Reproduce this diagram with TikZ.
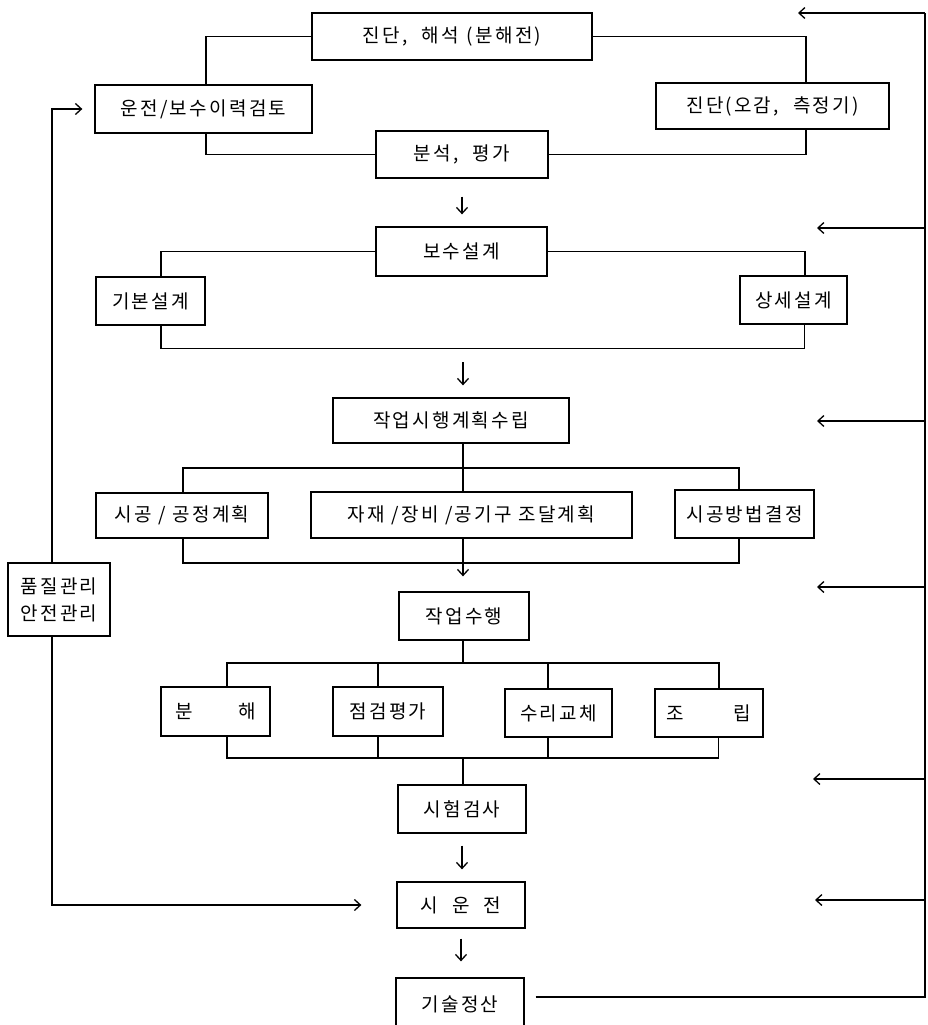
\documentclass[tikz,border=0pt]{standalone}
\usepackage{fontspec}
\newfontfamily\kr[LetterSpace=12]{Noto Sans CJK KR}
\usetikzlibrary{arrows.meta}
\begin{document}
\begin{tikzpicture}[x=1pt,y=-1pt,
  font={\kr\fontsize{19}{27}\selectfont},
  box/.style={draw,line width=1.3pt,inner sep=0pt,align=center},
  ln/.style={line width=1.3pt},
  arr/.style={ln,-{Straight Barb[length=6pt,width=11pt]}}]
\fill[white] (0,0) rectangle (927,1025);
\useasboundingbox (0,0) rectangle (927,1025);
% boxes
\node[box,minimum width=280,minimum height=47] (A) at (452,36.5) {진단,\hspace{14pt}해석\hspace{8pt}(분해전)};
\node[box,minimum width=217,minimum height=48] (B) at (203.5,109) {운전/보수이력검토};
\node[box,minimum width=233,minimum height=46] (C) at (772.5,106) {진단\hspace{2pt}(오감,\hspace{14pt}측정기)};
\node[box,minimum width=172,minimum height=47] (D) at (462,154.5) {분석,\hspace{14pt}평가};
\node[box,minimum width=171,minimum height=49] (E) at (461.5,251.5) {보수설계};
\node[box,minimum width=109,minimum height=48] (F) at (150.5,301) {기본설계};
\node[box,minimum width=107,minimum height=48] (G) at (793.5,300) {상세설계};
\node[box,minimum width=236,minimum height=45] (H) at (451,420.5) {작업시행계획수립};
\node[box,minimum width=172,minimum height=45] (I) at (182,515.5) {시공 / 공정계획};
\node[box,minimum width=321,minimum height=46] (J) at (471.5,515) {자재 /장비 /공기구 조달계획};
\node[box,minimum width=139,minimum height=48] (K) at (744.5,514) {시공방법결정};
\node[box,minimum width=130,minimum height=48] (L) at (464,616) {작업수행};
\node[box,minimum width=109,minimum height=49] (M) at (215.5,711.5) {분\hspace{46pt}해};
\node[box,minimum width=110,minimum height=49] (N) at (388,711.5) {점검평가};
\node[box,minimum width=107,minimum height=48] (O) at (558.5,713) {수리교체};
\node[box,minimum width=108,minimum height=48] (P) at (709,713) {조\hspace{50pt}립};
\node[box,minimum width=128,minimum height=48] (Q) at (462,809) {시험검사};
\node[box,minimum width=128,minimum height=46] (R) at (461,905) {시\hspace{14pt}운\hspace{14pt}전};
\node[box,minimum width=128,minimum height=52] (S) at (460,1004) {기술정산};
\node[box,minimum width=102,minimum height=73] (T) at (59,599.5) {품질관리\\안전관리};
% top group
\draw[ln] (A.west) -| ([xshift=2.5]B.north);
\draw[ln] (A.east) -| ([xshift=33.5]C.north);
\draw[ln] ([xshift=2.5]B.south) |- (D.west);
\draw[ln] ([xshift=33.5]C.south) |- (D.east);
\draw[arr,shorten <=18pt,shorten >=12pt] (D.south) -- (D.south |- E.north);
% design group
\draw[ln] (E.west) -| ([xshift=10.5]F.north);
\draw[ln] (E.east) -| ([xshift=11.5]G.north);
\draw[ln] ([xshift=10.5]F.south) -- ++(0,23) -| ([xshift=11]G.south);
\coordinate (fg) at (463,348);
\draw[arr,shorten <=14pt,shorten >=12pt] (fg) -- (fg |- H.north);
% planning group
\draw[ln] ([xshift=12]H.south) -- ([xshift=-8.5]J.north);
\coordinate (hb) at (463,468);
\draw[ln] ([xshift=1]I.north) |- (hb) -| ([xshift=-5.5]K.north);
\coordinate (ib) at (463,563);
\draw[ln] ([xshift=1]I.south) |- (ib) -| ([xshift=-5.5]K.south);
\draw[arr,shorten >=15pt] ([xshift=-8.5]J.south) -- ([xshift=-1]L.north);
% work group
\coordinate (lb) at (463,663);
\draw[ln] ([xshift=-1]L.south) -- (lb);
\draw[ln] ([xshift=11.5]M.north) |- (lb) -| ([xshift=10]P.north);
\draw[ln] ([xshift=-10]N.north) -- ++(0,-24);
\draw[ln] ([xshift=-10.5]O.north) -- ++(0,-26);
\coordinate (mb) at (463,758);
\draw[ln] ([xshift=11.5]M.south) |- (mb) -| ([xshift=9.5]P.south);
\draw[ln] ([xshift=-10]N.south) -- ++(0,22);
\draw[ln] ([xshift=-10.5]O.south) -- ++(0,21);
\draw[ln] (mb) -- (mb |- Q.north);
\draw[arr,shorten <=12pt,shorten >=12pt] (Q.south) -- (Q.south |- R.north);
\draw[arr,shorten <=10pt,shorten >=16pt] (R.south) -- (R.south |- S.north);
% right feedback
\coordinate (rb) at (925,997);
\coordinate (rt) at (925,13);
\draw[ln] ([shift={(11pt,7pt)}]S.east) -- (rb) -- (rt);
\foreach \yy/\tx [count=\i] in {13/798,228/817,421/817,587/817,779/813,900/815}{
  \coordinate (r\i) at (925,\yy);
  \coordinate (t\i) at (\tx,\yy);
  \draw[arr] (r\i) -- (t\i);
}
% left feedback
\draw[arr] ([xshift=-7]T.north) |- ([xshift=-12]B.west);
\draw[arr] ([xshift=-7]T.south) |- ([xshift=-35]R.west);
\end{tikzpicture}
\end{document}
